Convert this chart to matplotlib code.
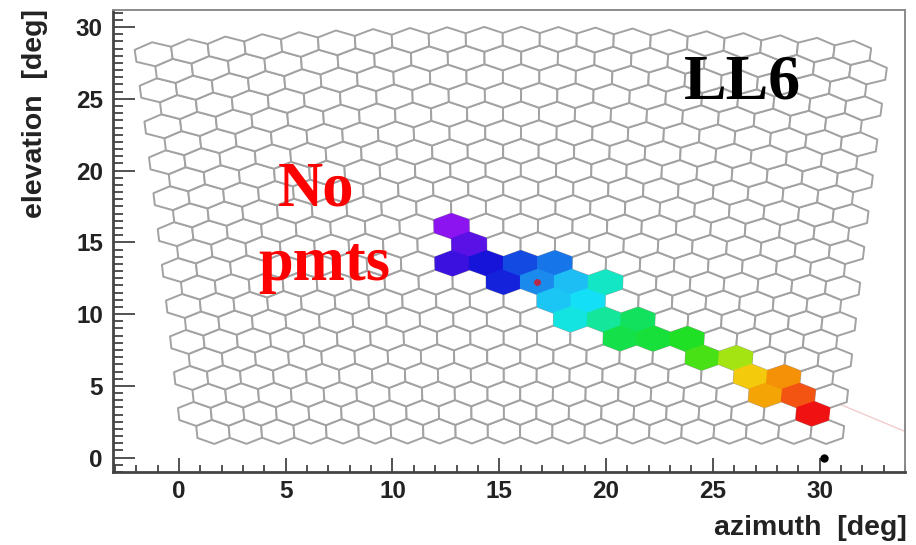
import numpy as np
import matplotlib
matplotlib.use("Agg")
import matplotlib.pyplot as plt
from matplotlib.collections import PolyCollection
from matplotlib.colors import LinearSegmentedColormap, Normalize

# ---------------- data ----------------
n_rows = 22          # camera pixel rows
n_cols = 20          # camera pixel columns
cam_az = 15.6        # camera axis azimuth  [deg]
cam_el = 15.5        # camera axis elevation [deg]
pix_du = 1.555       # horizontal pixel spacing [deg]
pix_dv = 1.30        # vertical pixel spacing [deg]

# triggered pixels (row, column, relative signal time)
hit_rows = [11, 10, 9, 9, 8, 9, 9, 8, 8, 7, 7, 6, 8, 6, 6, 5, 5, 5, 4, 4, 3, 2, 3, 2, 1]
hit_cols = [8, 8, 8, 9, 9, 10, 11, 10, 11, 11, 12, 11, 12, 12, 13, 13, 14, 15, 15, 16, 17, 17, 18, 18, 19]
hit_times = [0.00, 0.06, 0.10, 0.15, 0.17, 0.21, 0.25, 0.27, 0.33, 0.34, 0.38, 0.41,
             0.44, 0.48, 0.53, 0.55, 0.57, 0.60, 0.64, 0.70, 0.80, 0.84, 0.86, 0.92, 1.00]
marked_pixel = (8, 10)

station_az = [30.2]
station_el = [0.0]
sdp_az = [26.0, 35.0]
sdp_el = [6.8, 1.2]

x_ticks = [0, 5, 10, 15, 20, 25, 30]
y_ticks = [0, 5, 10, 15, 20, 25, 30]

palette = ['#8c14f0', '#4a10e2', '#1414d8', '#1262e6', '#22b0f2', '#12e2f6',
           '#14e8b0', '#12e052', '#22e018', '#98e412', '#f2e412', '#f4a204',
           '#f45212', '#f01212']

# ---------------- geometry ----------------
def cam_to_sky(u, v):
    u = np.radians(u); v = np.radians(v); e = np.radians(cam_el)
    X = np.tan(u); Y = np.tan(v)
    xw = np.cos(e) - np.sin(e) * Y
    zw = np.sin(e) + np.cos(e) * Y
    yw = X
    az = cam_az + np.degrees(np.arctan2(yw, xw))
    el = np.degrees(np.arctan2(zw, np.hypot(xw, yw)))
    return az, el

w = pix_du / 2.0
r = pix_dv / 1.5
hex_du = np.array([0, w, w, 0, -w, -w])
hex_dv = np.array([r, r / 2, -r / 2, -r, -r / 2, r / 2])

def pixel_center(row, col):
    u = (col - (n_cols - 1) / 2.0) * pix_du + (pix_du / 4 if row % 2 == 0 else -pix_du / 4)
    v = (row - (n_rows - 1) / 2.0) * pix_dv
    return u, v

def pixel_poly(row, col):
    u, v = pixel_center(row, col)
    az, el = cam_to_sky(u + hex_du, v + hex_dv)
    return np.column_stack([az, el])

# ---------------- figure ----------------
plt.rcParams['font.family'] = ['Liberation Sans', 'DejaVu Sans']
fig = plt.figure(figsize=(9.16, 5.45), dpi=100)
ax = fig.add_axes([0.123, 0.134, 0.865, 0.848])
ax.set_xlim(-3.1, 34.0)
ax.set_ylim(-1.0, 31.2)

ax.plot(sdp_az, sdp_el, color='#f2cccc', lw=1.0, zorder=1)

hit_set = set(zip(hit_rows, hit_cols))
polys = [pixel_poly(rw, cl) for rw in range(n_rows) for cl in range(n_cols)
         if (rw, cl) not in hit_set]
ax.add_collection(PolyCollection(polys, facecolors='white', edgecolors='#a2a2a2',
                                 linewidths=1.4, zorder=2))

cmap = LinearSegmentedColormap.from_list('root_rainbow', palette)
norm = Normalize(0, 1)
hit_polys = [pixel_poly(rw, cl) for rw, cl in zip(hit_rows, hit_cols)]
cols = cmap(norm(np.array(hit_times)))
ax.add_collection(PolyCollection(hit_polys, facecolors=cols, edgecolors=cols,
                                 linewidths=0.8, zorder=3))

mu, mv = pixel_center(*marked_pixel)
maz, mel = cam_to_sky(mu, mv)
ax.plot([maz], [mel], 'o', color='#b82848', ms=5, mec='none', zorder=4)

ax.plot(station_az, station_el, 'o', color='black', ms=5, zorder=5, clip_on=False)

# texts
ax.text(6.4, 17.6, 'No', color='#ff0000', fontsize=45, fontweight='bold',
        family='Liberation Serif', ha='center', va='baseline', zorder=6)
ax.text(6.8, 12.4, 'pmts', color='#ff0000', fontsize=45, fontweight='bold',
        family='Liberation Serif', ha='center', va='baseline', zorder=6)
ax.text(26.4, 25.0, 'LL6', color='black', fontsize=46, fontweight='bold',
        family='Liberation Serif', ha='center', va='baseline', zorder=6)

# axes styling
ax.set_xticks(x_ticks)
ax.set_yticks(y_ticks)
ax.set_xticks(np.arange(-3, 35, 1), minor=True)
ax.set_yticks(np.arange(-1, 31.5, 0.5), minor=True)
ax.tick_params(axis='both', which='both', direction='in', colors='#444444',
               labelcolor='#222222', labelsize=17.5, width=1.3, top=False, right=False)
ax.tick_params(axis='y', which='major', length=16, pad=7)
ax.tick_params(axis='y', which='minor', length=7)
ax.tick_params(axis='x', which='major', length=10, pad=6)
ax.tick_params(axis='x', which='minor', length=5)
for lab in ax.get_xticklabels() + ax.get_yticklabels():
    lab.set_fontweight('bold')

ax.spines['left'].set_color('#444444'); ax.spines['left'].set_linewidth(2.0)
ax.spines['bottom'].set_color('#444444'); ax.spines['bottom'].set_linewidth(2.0)
ax.spines['top'].set_color('#8a8a8a'); ax.spines['top'].set_linewidth(1.4)
ax.spines['right'].set_color('#8a8a8a'); ax.spines['right'].set_linewidth(1.4)

fig.text(35 / 916, 1 - 9 / 545, 'elevation  [deg]', rotation=90, ha='center', va='top',
         fontsize=20.5, fontweight='bold', color='#222222')
fig.text(907 / 916, 17 / 545, 'azimuth  [deg]', ha='right', va='center',
         fontsize=20.5, fontweight='bold', color='#222222')

fig.savefig('out.png', dpi=100)
